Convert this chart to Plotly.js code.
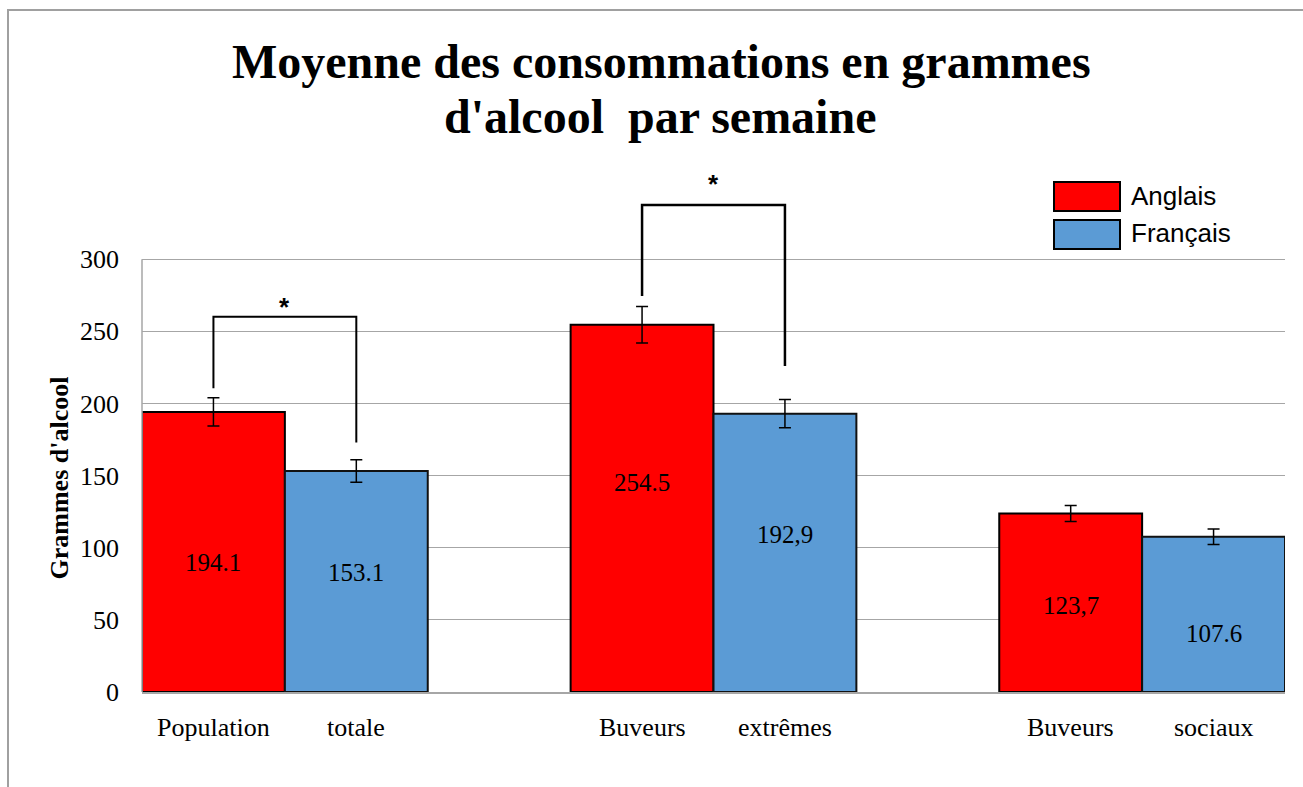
<!DOCTYPE html>
<html>
<head>
<meta charset="utf-8">
<script src="https://cdn.plot.ly/plotly-3.0.1.min.js"></script>
<style>
  html, body { margin: 0; padding: 0; background: #fff; }
  #wrap { position: relative; width: 1303px; height: 787px; }
  #chart { position: absolute; left: 0; top: 0; width: 1303px; height: 787px; }
  #frame { position: absolute; left: 7px; top: 9px; width: 1300px; height: 780px;
           border-left: 2px solid #a0a0a0; border-top: 2px solid #a0a0a0; pointer-events: none; }
</style>
</head>
<body>
<div id="wrap">
  <div id="chart"></div>
  <div id="frame"></div>
</div>
<script>
// ---- data ----
const categories = ["Population totale", "Buveurs extrêmes", "Buveurs sociaux"];
const seriesNames = ["Anglais", "Français"];
const anglais = [194.1, 254.5, 123.7];
const francais = [153.1, 192.9, 107.6];
const errAnglais = [9.8, 12.7, 5.6];
const errFrancais = [7.8, 9.8, 5.3];
const labelsAnglais = ["194.1", "254.5", "123,7"];
const labelsFrancais = ["153.1", "192,9", "107.6"];
const yTicks = [0, 50, 100, 150, 200, 250, 300];
// significance brackets: category index, y of top, y of left leg bottom, y of right leg bottom
const sigCategory = [0, 1];
const sigTop = [260, 337.5];
const sigLeftBottom = [210.5, 274.5];
const sigRightBottom = [173, 226];
const sigStarY = [266.5, 352];

// ---- layout helpers (pixel geometry) ----
const W = 1303, H = 787;
const M = {l: 142, r: 18, t: 187, b: 95};
const PW = W - M.l - M.r, PH = H - M.t - M.b;
const YMAX = 350;
const px = x => (x - M.l) / PW;        // pixel x -> paper x
const py = y => (H - M.b - y) / PH;    // pixel y -> paper y
const off = 1/6;                        // bar centre offset within a group

const RED = "#ff0000", BLUE = "#5b9bd5";
const SERIF = "Liberation Serif, Times New Roman, serif";
const SANS = "Liberation Sans, Arial, sans-serif";

const traces = [
  {type: "bar", name: seriesNames[0], x: categories, y: anglais,
   marker: {color: RED, line: {color: "#000", width: 2}},
   error_y: {type: "data", array: errAnglais, visible: true, color: "#000", thickness: 1.5, width: 6},
   hoverinfo: "y"},
  {type: "bar", name: seriesNames[1], x: categories, y: francais,
   marker: {color: BLUE, line: {color: "#111", width: 2}},
   error_y: {type: "data", array: errFrancais, visible: true, color: "#000", thickness: 1.5, width: 6},
   hoverinfo: "y"}
];

const annotations = [];
const shapes = [];

// title (two lines)
annotations.push({xref: "paper", yref: "paper", x: px(661), y: py(61), xanchor: "center", yanchor: "middle",
  text: "<b>Moyenne des consommations en grammes</b>", showarrow: false,
  font: {family: SERIF, size: 48, color: "#000"}});
annotations.push({xref: "paper", yref: "paper", x: px(660), y: py(116), xanchor: "center", yanchor: "middle",
  text: "<b>d'alcool  par semaine</b>", showarrow: false,
  font: {family: SERIF, size: 48, color: "#000"}});

// y-axis title
annotations.push({xref: "paper", yref: "y", x: 0, xshift: -(142 - 59), y: 148, xanchor: "center", yanchor: "middle",
  text: "<b>Grammes d'alcool</b>", textangle: -90, showarrow: false,
  font: {family: SERIF, size: 26, color: "#000"}});

// category word labels & value labels
categories.forEach((c, i) => {
  const words = c.split(" ");
  annotations.push({xref: "x", yref: "paper", x: i - off, y: 0, yshift: -35, yanchor: "middle",
    text: words[0], showarrow: false, font: {family: SERIF, size: 26, color: "#000"}});
  annotations.push({xref: "x", yref: "paper", x: i + off, y: 0, yshift: -35, yanchor: "middle",
    text: words[1], showarrow: false, font: {family: SERIF, size: 26, color: "#000"}});
});
const labelYA = [90, 145, 60];
const labelYF = [82.5, 109, 40.5];
categories.forEach((c, i) => {
  annotations.push({xref: "x", yref: "y", x: i - off, y: labelYA[i], yanchor: "middle",
    text: labelsAnglais[i], showarrow: false, font: {family: SERIF, size: 25, color: "#000"}});
  annotations.push({xref: "x", yref: "y", x: i + off, y: labelYF[i], yanchor: "middle",
    text: labelsFrancais[i], showarrow: false, font: {family: SERIF, size: 25, color: "#000"}});
});

// significance brackets
sigCategory.forEach((ci, k) => {
  const xl = ci - off, xr = ci + off;
  const lw = k === 0 ? 2 : 2.5;
  shapes.push({type: "path", xref: "x", yref: "y",
    path: `M ${xl},${sigLeftBottom[k]} L ${xl},${sigTop[k]} L ${xr},${sigTop[k]} L ${xr},${sigRightBottom[k]}`,
    line: {color: "#000", width: lw}});
  annotations.push({xref: "x", yref: "paper", x: ci, y: sigStarY[k] / YMAX, yanchor: "middle",
    text: "<b>*</b>", showarrow: false, font: {family: SANS, size: 26, color: "#000"}});
});

// left axis line (only 0..300)
shapes.push({type: "line", xref: "paper", yref: "y", x0: 0, x1: 0, y0: 0, y1: 300,
  line: {color: "#a6a6a6", width: 1.5}});

// custom legend
const legendItems = [
  {name: seriesNames[0], color: RED, y0: 182, y1: 211, ty: 196},
  {name: seriesNames[1], color: BLUE, y0: 220, y1: 249, ty: 233}
];
legendItems.forEach(it => {
  shapes.push({type: "rect", xref: "paper", yref: "paper", x0: px(1054), x1: px(1120),
    y0: py(it.y1), y1: py(it.y0), fillcolor: it.color, line: {color: "#000", width: 2}});
  annotations.push({xref: "paper", yref: "paper", x: px(1129), y: py(it.ty), xanchor: "left", yanchor: "middle",
    text: it.name, showarrow: false, font: {family: SANS, size: 26, color: "#000"}});
});

const layout = {
  width: W, height: H,
  margin: M,
  paper_bgcolor: "#fff", plot_bgcolor: "#fff",
  showlegend: false,
  barmode: "group",
  bargap: 1/3,
  bargroupgap: 0,
  xaxis: {type: "category", range: [-1/3, 2 + 1/3], showticklabels: false, ticks: "",
    showgrid: false, zeroline: false, showline: true, linecolor: "#a6a6a6", linewidth: 1.5, fixedrange: true},
  yaxis: {range: [0, YMAX], tickmode: "array", tickvals: yTicks, ticktext: yTicks.map(String),
    showgrid: true, gridcolor: "#a6a6a6", gridwidth: 1, zeroline: false, showline: false, ticks: "",
    ticklabelstandoff: 22, tickfont: {family: SERIF, size: 26, color: "#000"}, fixedrange: true},
  annotations: annotations,
  shapes: shapes
};

Plotly.newPlot("chart", traces, layout, {displayModeBar: false, staticPlot: true});
</script>
</body>
</html>
